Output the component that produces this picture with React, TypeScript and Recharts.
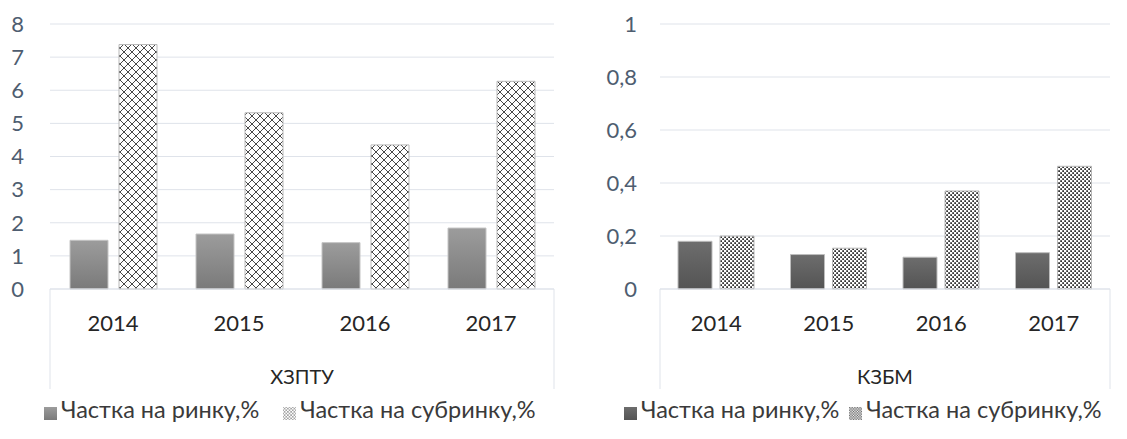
import React from "react";
import {
  BarChart,
  Bar,
  XAxis,
  YAxis,
  CartesianGrid,
  Legend,
  usePlotArea,
} from "recharts";

const years = ["2014", "2015", "2016", "2017"];

// ХЗПТУ
const hzptuMarket = [1.47, 1.66, 1.4, 1.84];
const hzptuSub = [7.38, 5.32, 4.35, 6.27];

// КЗБМ
const kzbmMarket = [0.18, 0.13, 0.12, 0.137];
const kzbmSub = [0.2, 0.154, 0.37, 0.463];

const hzptuTicks = [0, 1, 2, 3, 4, 5, 6, 7, 8];
const kzbmTicks = [0, 0.2, 0.4, 0.6, 0.8, 1];

const MARKET = "Частка на ринку,%";
const SUB = "Частка на субринку,%";

const hzptuData = years.map((year, i) => ({
  year,
  market: hzptuMarket[i],
  sub: hzptuSub[i],
}));

const kzbmData = years.map((year, i) => ({
  year,
  market: kzbmMarket[i],
  sub: kzbmSub[i],
}));

const FONT = "Lato, 'Open Sans', sans-serif";
const GRID = "#dfe3ea";

// outer lines of the category box under the plot (Excel multi-level axis)
function AxisBox({ depth }: { depth: number }) {
  const area = usePlotArea();
  if (!area) return null;
  const y0 = area.y + area.height;
  return (
    <g>
      {[area.x, area.x + area.width].map((x) => (
        <line
          key={x}
          x1={x}
          x2={x}
          y1={y0}
          y2={y0 + depth}
          stroke={GRID}
          strokeWidth={1}
        />
      ))}
    </g>
  );
}

const legendText = (gap: number) => (value: string) => (
  <span
    style={{
      color: "#3a3a3a",
      fontSize: 23.5,
      fontFamily: FONT,
      marginRight: value === MARKET ? gap : 0,
    }}
  >
    {value}
  </span>
);

function Patterns() {
  return (
    <defs>
      <linearGradient id="gLight" x1="0" y1="0" x2="0" y2="1">
        <stop offset="0%" stopColor="#9c9c9c" />
        <stop offset="100%" stopColor="#7a7a7a" />
      </linearGradient>
      <linearGradient id="gDark" x1="0" y1="0" x2="0" y2="1">
        <stop offset="0%" stopColor="#6d6d6d" />
        <stop offset="100%" stopColor="#545454" />
      </linearGradient>
      <pattern id="cross" width="8" height="8" patternUnits="userSpaceOnUse">
        <rect width="8" height="8" fill="#fff" />
        <path
          d="M0,0 L8,8 M8,0 L0,8"
          stroke="#333"
          strokeWidth="0.9"
        />
      </pattern>
      <pattern id="dots" width="4" height="4" patternUnits="userSpaceOnUse">
        <rect width="4" height="4" fill="#fff" />
        <rect x="0.3" y="0.3" width="1.6" height="1.6" fill="#000" />
        <rect x="2.3" y="2.3" width="1.6" height="1.6" fill="#000" />
      </pattern>
    </defs>
  );
}

export default function App() {
  return (
    <div
      style={{
        position: "absolute",
        left: 0,
        top: 0,
        width: 1127,
        height: 439,
        background: "#fff",
        fontFamily: FONT,
      }}
    >
      <div style={{ position: "absolute", left: 0, top: 0 }}>
        <BarChart
          width={560}
          height={439}
          data={hzptuData}
          margin={{ top: 24, right: 6, bottom: 22, left: 0 }}
          barSize={38}
          barGap={11}
        >
          <Patterns />
          <CartesianGrid vertical={false} stroke={GRID} />
          <XAxis
            dataKey="year"
            height={100}
            axisLine={{ stroke: GRID }}
            tickLine={false}
            tickSize={0}
            tickMargin={26}
            tick={{ fill: "#262626", fontSize: 22, fontFamily: FONT }}
            label={{
              value: "ХЗПТУ",
              position: "insideBottom",
              offset: 5,
              fill: "#262626",
              fontSize: 20,
              fontFamily: FONT,
            }}
          />
          <YAxis
            width={50}
            domain={[0, 8]}
            ticks={hzptuTicks}
            axisLine={false}
            tickLine={false}
            tickSize={0}
            tickMargin={26}
            tick={{ fill: "#4e5d70", fontSize: 22, fontFamily: FONT }}
          />
          <AxisBox depth={100} />
          <Legend
            verticalAlign="bottom"
            align="left"
            iconType="square"
            iconSize={13}
            formatter={legendText(14)}
            wrapperStyle={{ left: 44, bottom: 16 }}
          />
          <Bar
            dataKey="market"
            name={MARKET}
            fill="url(#gLight)"
            stroke="#c4c4c4"
            isAnimationActive={false}
          />
          <Bar
            dataKey="sub"
            name={SUB}
            fill="url(#cross)"
            stroke="#b8b8b8"
            isAnimationActive={false}
          />
        </BarChart>
      </div>
      <div style={{ position: "absolute", left: 560, top: 0 }}>
        <BarChart
          width={567}
          height={439}
          data={kzbmData}
          margin={{ top: 24, right: 17, bottom: 22, left: 0 }}
          barSize={34}
          barGap={8}
        >
          <Patterns />
          <CartesianGrid vertical={false} stroke={GRID} />
          <XAxis
            dataKey="year"
            height={100}
            axisLine={{ stroke: GRID }}
            tickLine={false}
            tickSize={0}
            tickMargin={26}
            tick={{ fill: "#262626", fontSize: 22, fontFamily: FONT }}
            label={{
              value: "КЗБМ",
              position: "insideBottom",
              offset: 5,
              fill: "#262626",
              fontSize: 20,
              fontFamily: FONT,
            }}
          />
          <YAxis
            width={100}
            domain={[0, 1]}
            ticks={kzbmTicks}
            axisLine={false}
            tickLine={false}
            tickSize={0}
            tickMargin={23}
            tickFormatter={(v: number) => String(v).replace(".", ",")}
            tick={{ fill: "#4e5d70", fontSize: 22, fontFamily: FONT }}
          />
          <AxisBox depth={100} />
          <Legend
            verticalAlign="bottom"
            align="left"
            iconType="square"
            iconSize={13}
            formatter={legendText(0)}
            wrapperStyle={{ left: 64, bottom: 16 }}
          />
          <Bar
            dataKey="market"
            name={MARKET}
            fill="url(#gDark)"
            stroke="#bdbdbd"
            isAnimationActive={false}
          />
          <Bar
            dataKey="sub"
            name={SUB}
            fill="url(#dots)"
            stroke="#b8b8b8"
            isAnimationActive={false}
          />
        </BarChart>
      </div>
    </div>
  );
}
